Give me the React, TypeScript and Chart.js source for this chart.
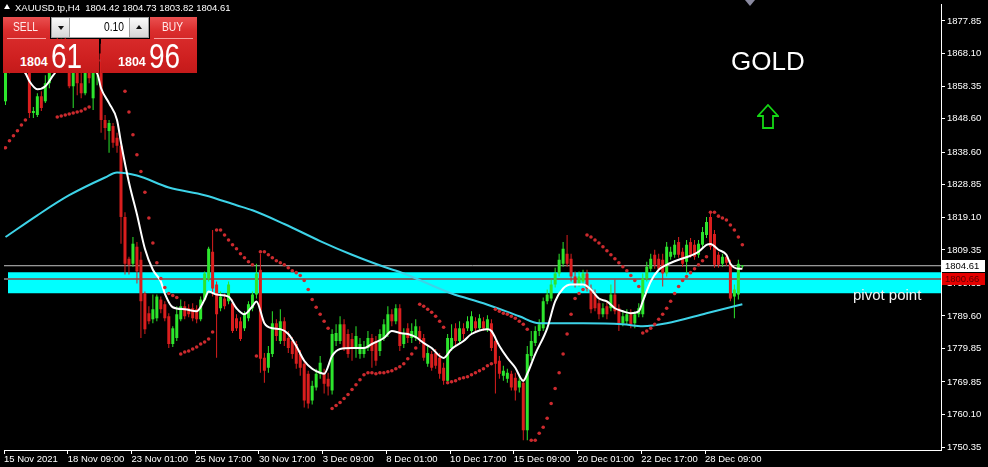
import React, { useEffect, useRef } from 'react';
import { Chart, registerables } from 'chart.js';

Chart.register(...registerables);

// ---------------- data ----------------
const symbolTitle = 'XAUUSD.tp,H4';
const lastBarOHLC = [1804.42, 1804.73, 1803.82, 1804.61];
const bidPrice = 1804.61;
const askPrice = 1804.96;
const lotSize = '0.10';
const pivotLinePrice = 1800.66;
const pivotZoneTop = 1802.65;
const pivotZoneBottom = 1796.42;
const pivotZoneStartBar = 0.625;

const opens = [
  1853.8, 1864.5, 1868.7, 1866.6, 1871.6, 1869.6, 1863.6, 1850.3, 1849.7, 1855.3,
  1853.8, 1859.2, 1865.7, 1869.6, 1868.1, 1871.0, 1866.6, 1858.3, 1865.1, 1859.2,
  1856.2, 1864.5, 1854.7, 1862.2, 1868.1, 1848.2, 1844.9, 1846.4, 1842.9, 1840.5,
  1819.2, 1806.7, 1805.2, 1810.3, 1806.4, 1796.3, 1790.4, 1788.6, 1788.9, 1794.5,
  1793.1, 1789.5, 1781.2, 1783.0, 1788.6, 1792.5, 1791.9, 1791.9, 1791.6, 1788.6,
  1794.5, 1800.8, 1808.8, 1799.0, 1791.9, 1794.8, 1794.0, 1793.4, 1788.9, 1788.0,
  1785.9, 1788.9, 1791.9, 1796.0, 1803.4, 1777.1, 1774.1, 1778.2, 1787.4, 1782.1,
  1788.0, 1783.0, 1782.1, 1781.2, 1778.2, 1775.3, 1772.3, 1764.3, 1768.2, 1772.3,
  1772.3, 1770.8, 1767.3, 1782.1, 1782.1, 1787.1, 1784.2, 1782.7, 1780.0, 1778.2,
  1778.2, 1780.0, 1783.0, 1782.1, 1779.1, 1783.0, 1784.2, 1790.1, 1788.0, 1791.9,
  1781.2, 1785.9, 1783.0, 1783.0, 1785.1, 1783.0, 1775.3, 1778.2, 1778.5, 1777.1,
  1774.1, 1770.2, 1780.0, 1785.9, 1782.1, 1785.9, 1785.9, 1785.1, 1788.0, 1785.9,
  1788.0, 1785.6, 1787.4, 1782.1, 1776.2, 1771.7, 1770.8, 1772.3, 1771.1, 1768.2,
  1769.6, 1755.4, 1777.6, 1781.5, 1785.1, 1785.9, 1794.0, 1794.8, 1799.0, 1802.3,
  1805.2, 1808.2, 1806.7, 1801.4, 1799.3, 1799.9, 1802.3, 1797.8, 1796.0, 1793.4,
  1790.1, 1792.5, 1791.9, 1796.0, 1791.9, 1787.4, 1788.0, 1790.1, 1787.4, 1790.1,
  1790.1, 1800.8, 1803.7, 1807.9, 1806.7, 1806.4, 1802.3, 1807.3, 1807.9, 1811.7,
  1808.8, 1805.8, 1811.7, 1810.9, 1807.9, 1810.9, 1813.8, 1819.2, 1814.1, 1807.9,
  1805.2, 1807.3, 1805.2, 1795.4, 1796.0, 1804.42,
];

const highs = [
  1866.6, 1871.0, 1872.5, 1874.0, 1875.5, 1871.0, 1866.6, 1852.1, 1856.2, 1856.8,
  1861.6, 1868.1, 1871.0, 1874.0, 1872.5, 1874.0, 1868.1, 1866.6, 1868.1, 1863.6,
  1866.6, 1868.1, 1866.6, 1869.6, 1871.0, 1849.7, 1848.2, 1847.3, 1844.4, 1842.0,
  1820.6, 1807.3, 1813.2, 1811.7, 1808.8, 1796.9, 1792.5, 1796.0, 1796.0, 1795.4,
  1794.0, 1790.4, 1786.5, 1792.5, 1794.5, 1794.0, 1793.1, 1793.4, 1792.8, 1795.4,
  1802.9, 1810.3, 1815.3, 1799.9, 1796.9, 1796.3, 1799.9, 1794.5, 1790.1, 1789.2,
  1791.0, 1794.0, 1796.9, 1805.2, 1808.2, 1778.5, 1780.6, 1791.0, 1788.6, 1791.6,
  1789.2, 1785.1, 1783.3, 1782.1, 1779.4, 1776.2, 1773.2, 1770.2, 1773.8, 1777.6,
  1773.8, 1772.6, 1785.6, 1787.1, 1789.5, 1788.6, 1785.6, 1784.5, 1786.5, 1783.0,
  1782.1, 1785.1, 1784.2, 1783.6, 1785.6, 1788.6, 1792.5, 1791.6, 1793.1, 1793.1,
  1785.9, 1787.4, 1787.4, 1788.6, 1786.5, 1784.2, 1780.6, 1779.1, 1779.7, 1778.5,
  1775.6, 1784.2, 1787.1, 1787.4, 1788.0, 1787.4, 1789.5, 1791.0, 1789.2, 1790.1,
  1789.2, 1789.8, 1788.6, 1783.3, 1777.6, 1774.7, 1773.8, 1773.2, 1772.6, 1771.7,
  1770.8, 1780.6, 1785.1, 1786.5, 1788.6, 1795.1, 1797.5, 1800.5, 1804.0, 1808.2,
  1811.7, 1813.8, 1808.2, 1802.9, 1802.9, 1803.4, 1803.4, 1799.0, 1797.5, 1794.5,
  1793.4, 1794.0, 1799.0, 1800.5, 1793.1, 1791.0, 1791.6, 1791.6, 1791.0, 1793.4,
  1802.3, 1805.8, 1808.2, 1809.4, 1808.2, 1808.2, 1811.7, 1810.3, 1812.3, 1813.2,
  1810.0, 1812.3, 1812.9, 1812.3, 1812.3, 1816.2, 1819.2, 1820.6, 1815.3, 1808.8,
  1808.2, 1808.2, 1806.4, 1799.0, 1806.4, 1804.73,
];

const lows = [
  1852.7, 1862.2, 1865.1, 1864.5, 1868.1, 1861.6, 1848.8, 1848.8, 1849.1, 1850.9,
  1853.3, 1857.7, 1863.6, 1866.6, 1865.1, 1864.5, 1857.7, 1851.8, 1855.6, 1854.7,
  1855.6, 1859.2, 1851.2, 1858.6, 1844.4, 1842.3, 1838.4, 1839.9, 1838.4, 1811.2,
  1802.0, 1802.0, 1804.3, 1799.3, 1783.0, 1784.2, 1787.1, 1787.4, 1788.0, 1790.4,
  1788.0, 1780.0, 1780.3, 1782.1, 1788.0, 1788.6, 1789.2, 1788.0, 1787.4, 1788.0,
  1794.0, 1799.9, 1795.4, 1777.1, 1791.0, 1791.6, 1793.1, 1784.5, 1785.1, 1782.1,
  1785.1, 1788.0, 1791.0, 1794.8, 1772.6, 1769.6, 1772.6, 1777.3, 1782.1, 1781.2,
  1780.6, 1778.5, 1776.8, 1773.8, 1771.7, 1762.2, 1761.9, 1763.1, 1767.3, 1770.8,
  1766.4, 1765.8, 1766.1, 1780.6, 1781.2, 1779.1, 1777.1, 1776.2, 1777.1, 1776.8,
  1777.1, 1779.1, 1774.1, 1774.7, 1777.6, 1782.1, 1783.3, 1786.5, 1787.1, 1779.1,
  1780.0, 1781.5, 1781.5, 1782.1, 1781.2, 1776.2, 1774.4, 1773.2, 1773.8, 1770.8,
  1769.0, 1769.6, 1779.1, 1780.6, 1781.2, 1782.7, 1785.1, 1784.2, 1784.5, 1785.1,
  1785.1, 1784.8, 1779.1, 1766.4, 1770.8, 1770.2, 1769.6, 1767.3, 1764.3, 1766.7,
  1752.4, 1752.4, 1776.2, 1780.6, 1783.6, 1785.1, 1793.1, 1794.0, 1798.1, 1801.4,
  1804.3, 1804.3, 1799.9, 1798.1, 1798.4, 1798.7, 1796.9, 1790.4, 1791.0, 1788.6,
  1789.2, 1788.6, 1791.0, 1790.1, 1785.1, 1786.5, 1787.1, 1785.9, 1785.9, 1789.2,
  1789.2, 1799.9, 1802.9, 1803.7, 1802.9, 1798.4, 1801.4, 1806.4, 1807.0, 1807.0,
  1804.3, 1802.3, 1807.0, 1806.4, 1807.0, 1810.0, 1812.9, 1809.4, 1804.0, 1804.0,
  1804.3, 1804.6, 1794.0, 1788.9, 1794.5, 1803.82,
];

const closes = [
  1864.5, 1868.7, 1866.6, 1871.6, 1869.6, 1863.6, 1850.3, 1850.9, 1855.3, 1851.8,
  1859.2, 1865.7, 1869.6, 1868.1, 1871.0, 1866.6, 1858.3, 1865.1, 1859.2, 1856.2,
  1864.5, 1860.7, 1863.6, 1868.1, 1848.2, 1845.8, 1847.3, 1841.4, 1840.5, 1819.2,
  1805.2, 1804.9, 1811.2, 1802.9, 1794.0, 1785.6, 1788.0, 1791.6, 1795.4, 1791.6,
  1788.9, 1781.2, 1785.9, 1790.1, 1792.5, 1789.5, 1790.1, 1788.9, 1788.6, 1794.5,
  1802.3, 1809.7, 1797.8, 1790.1, 1795.4, 1792.5, 1799.0, 1785.1, 1785.9, 1782.7,
  1790.1, 1793.1, 1796.0, 1802.3, 1776.8, 1773.2, 1778.5, 1787.4, 1783.6, 1788.0,
  1782.1, 1780.0, 1778.2, 1775.3, 1774.1, 1764.3, 1763.4, 1768.7, 1772.3, 1775.6,
  1769.3, 1768.5, 1784.2, 1784.5, 1787.1, 1780.0, 1778.2, 1779.7, 1783.6, 1781.2,
  1780.0, 1783.0, 1779.1, 1776.2, 1784.2, 1787.1, 1790.1, 1788.0, 1791.9, 1780.6,
  1784.5, 1783.0, 1785.1, 1786.5, 1782.7, 1777.1, 1778.5, 1774.1, 1774.7, 1772.3,
  1770.2, 1783.0, 1783.0, 1782.1, 1785.9, 1784.2, 1788.0, 1789.5, 1785.9, 1788.9,
  1785.9, 1788.6, 1780.0, 1775.3, 1772.3, 1773.2, 1772.6, 1768.2, 1767.3, 1770.2,
  1755.4, 1778.2, 1782.1, 1785.1, 1787.1, 1794.0, 1796.0, 1799.0, 1802.3, 1806.4,
  1809.7, 1805.2, 1801.4, 1799.3, 1801.4, 1802.3, 1797.8, 1791.6, 1791.9, 1790.1,
  1791.9, 1790.1, 1796.0, 1791.0, 1787.4, 1789.5, 1790.1, 1787.1, 1790.1, 1791.9,
  1800.8, 1804.3, 1806.7, 1804.9, 1803.7, 1802.3, 1810.3, 1808.8, 1810.9, 1807.9,
  1805.2, 1810.9, 1807.9, 1807.3, 1811.2, 1814.7, 1817.7, 1810.3, 1804.9, 1804.9,
  1807.3, 1805.5, 1794.8, 1797.5, 1805.2, 1804.61,
];

// Parabolic SAR, one dot per bar
const sarValues = [
  1839.9, 1842.0, 1843.5, 1845.0, 1846.7, 1848.2, 1866.0, 1866.0, 1866.0, 1866.0,
  1866.0, 1866.0, 1866.0, 1849.1, 1849.4, 1849.7, 1850.0, 1850.3, 1850.6, 1850.9,
  1851.5, 1852.1, 1866.0, 1866.0, 1866.0, 1866.0, 1866.0, 1866.0, 1866.0, 1863.6,
  1856.8, 1850.6, 1843.8, 1837.8, 1832.8, 1826.6, 1818.9, 1811.4, 1805.5, 1800.8,
  1798.1, 1796.3, 1795.7, 1795.1, 1778.2, 1778.8, 1779.1, 1779.7, 1780.3, 1781.2,
  1781.8, 1782.7, 1784.8, 1815.3, 1815.3, 1813.8, 1812.3, 1810.9, 1809.7, 1808.2,
  1807.0, 1805.8, 1804.9, 1777.6, 1808.8, 1808.8, 1807.9, 1807.0, 1806.1, 1805.5,
  1804.9, 1804.0, 1803.1, 1802.55, 1801.7, 1800.2, 1797.5, 1794.5, 1792.2, 1790.1,
  1788.0, 1785.9, 1761.9, 1762.8, 1763.7, 1764.9, 1766.1, 1767.6, 1769.0, 1770.5,
  1772.0, 1772.6, 1772.6, 1772.3, 1772.6, 1772.6, 1772.9, 1773.2, 1773.8, 1774.4,
  1775.3, 1776.8, 1778.2, 1780.0, 1793.1, 1792.5, 1791.6, 1790.7, 1789.5, 1788.0,
  1786.2, 1769.6, 1769.9, 1770.2, 1770.8, 1771.1, 1771.4, 1772.0, 1772.6, 1773.2,
  1773.8, 1774.7, 1775.3, 1791.6, 1791.0, 1790.4, 1790.1, 1789.5, 1788.9, 1788.0,
  1787.1, 1785.6, 1752.4, 1752.4, 1754.5, 1756.3, 1759.0, 1763.4, 1767.9, 1772.6,
  1778.2, 1784.2, 1790.1, 1794.8, 1796.3, 1797.5, 1813.8, 1813.2, 1812.3, 1811.4,
  1810.3, 1809.1, 1807.9, 1806.7, 1805.5, 1804.3, 1803.1, 1801.7, 1800.2, 1798.4,
  1784.5, 1785.1, 1785.9, 1787.1, 1788.6, 1790.1, 1791.9, 1794.0, 1796.3, 1798.4,
  1800.2, 1801.4, 1802.55, 1803.7, 1804.9, 1806.1, 1807.3, 1820.6, 1820.6, 1819.45,
  1818.9, 1818.3, 1816.8, 1815.3, 1813.2, 1810.9,
];

// fast moving average (white), sampled at these bars
const fastMaBars = [
  1, 3, 5, 6, 8, 10, 12, 14, 17, 20, 23, 24, 26, 28, 29, 31, 33, 35, 37, 39,
  40, 42, 45, 48, 50, 51, 53, 56, 58, 60, 62, 63, 65, 67, 69, 71, 73, 75, 77, 79,
  80, 82, 84, 87, 90, 92, 95, 97, 99, 101, 103, 105, 107, 109, 110, 112, 115, 117, 121, 122,
  124, 126, 128, 130, 131, 133, 136, 138, 140, 142, 145, 147, 149, 151, 153, 155, 157, 159, 160, 162,
  164, 166, 169, 172, 174, 176, 177, 179, 181, 182, 184, 185,
];
const fastMaValues = [
  1863.0, 1863.6, 1862.2, 1859.8, 1857.4, 1858.3, 1861.6, 1864.5, 1865.1, 1863.9,
  1862.2, 1857.7, 1853.25, 1848.2, 1841.4, 1829.5, 1820.0, 1809.7, 1803.4, 1799.9,
  1796.3, 1792.2, 1791.6, 1791.0, 1794.5, 1796.9, 1796.0, 1795.4, 1791.9, 1790.1,
  1792.5, 1793.95, 1787.4, 1785.9, 1785.65, 1784.2, 1780.6, 1776.2, 1773.8, 1772.6,
  1772.3, 1777.6, 1779.7, 1780.0, 1780.0, 1781.2, 1783.0, 1785.1, 1784.5, 1784.2,
  1783.3, 1781.5, 1780.0, 1777.6, 1777.05, 1779.7, 1782.1, 1784.2, 1785.65, 1785.1,
  1780.6, 1777.05, 1774.1, 1770.2, 1772.3, 1778.2, 1785.9, 1793.95, 1797.8, 1799.0,
  1799.0, 1797.5, 1794.8, 1793.95, 1791.9, 1791.0, 1790.4, 1791.0, 1793.95, 1799.9,
  1803.4, 1804.9, 1806.4, 1807.6, 1808.8, 1810.85, 1811.15, 1809.4, 1807.9, 1805.2,
  1803.7, 1803.7,
];

// slow moving average (cyan), sampled at these bars
const slowMaBars = [0, 8, 16, 25, 28, 33, 41, 50, 58, 62, 70, 79, 87, 95, 100, 112, 120, 129, 134, 145, 155, 160, 166, 176, 183, 185];
const slowMaValues = [
  1813.2, 1819.7, 1825.7, 1831.0, 1832.5, 1831.6, 1828.0, 1825.7, 1822.7, 1821.2,
  1817.1, 1812.0, 1807.9, 1804.3, 1802.3, 1796.3, 1793.4, 1789.5, 1787.4, 1787.4,
  1787.1, 1786.5, 1787.4, 1790.4, 1792.5, 1793.1,
];

const yTickValues = [1877.85, 1868.10, 1858.35, 1848.60, 1838.60, 1828.85, 1819.10, 1809.35, 1799.35, 1789.60, 1779.85, 1769.85, 1760.10, 1750.35];
const xTickBars = [0, 16, 32, 48, 64, 80, 96, 112, 128, 144, 160, 176];
const xTickLabels = ['15 Nov 2021', '18 Nov 09:00', '23 Nov 01:00', '25 Nov 17:00', '30 Nov 17:00', '3 Dec 09:00', '8 Dec 01:00', '10 Dec 17:00', '15 Dec 09:00', '20 Dec 01:00', '22 Dec 17:00', '28 Dec 09:00'];

// ---------------- view settings ----------------
const X_MIN = -0.375;
const X_MAX = 234.875;
const Y_MIN = 1749.5;
const Y_MAX = 1882.9;
const BULL = '#2de52d';
const BEAR = '#da1e1e';
const FONT = '"Liberation Sans", Arial, sans-serif';

const priceTags: any = {
  id: 'priceTags',
  afterDraw(chart: any) {
    const { ctx, chartArea } = chart;
    const ys = chart.scales.y;
    const tag = (v: number, bg: string, fg: string) => {
      const py = Math.round(ys.getPixelForValue(v));
      ctx.save();
      ctx.fillStyle = bg;
      ctx.fillRect(chartArea.right + 1, py - 6, 43, 12);
      ctx.fillStyle = fg;
      ctx.font = '9.5px ' + FONT;
      ctx.textBaseline = 'middle';
      ctx.textAlign = 'left';
      ctx.fillText(v.toFixed(2), chartArea.right + 4, py + 0.5);
      ctx.restore();
    };
    tag(bidPrice, '#ffffff', '#000000');
    tag(pivotLinePrice, '#e50000', '#5c0000');
  },
};

function makeChart(canvas: HTMLCanvasElement) {
  const bars = opens.map((_, i) => i);
  const colors = bars.map((i) => (closes[i] >= opens[i] ? BULL : BEAR));
  const hLine = (v: number, x0 = X_MIN) => [
    { x: x0, y: v },
    { x: X_MAX, y: v },
  ];
  const config: any = {
    type: 'bar',
    data: {
      datasets: [
        {
          type: 'line',
          data: hLine(pivotZoneTop, pivotZoneStartBar),
          fill: { value: pivotZoneBottom },
          backgroundColor: '#00ffff',
          borderWidth: 0,
          pointRadius: 0,
          order: 10,
        },
        {
          type: 'line',
          data: hLine(bidPrice),
          borderColor: '#c4c4c4',
          borderWidth: 1,
          pointRadius: 0,
          fill: false,
          order: 9,
        },
        {
          type: 'line',
          data: hLine(pivotLinePrice),
          borderColor: '#6c6c6c',
          borderWidth: 2,
          pointRadius: 0,
          fill: false,
          order: 9,
        },
        {
          type: 'bar',
          data: bars.map((i) => ({ x: i, y: [lows[i], highs[i]] })),
          backgroundColor: colors,
          barThickness: 1,
          grouped: false,
          borderWidth: 0,
          inflateAmount: 0,
          order: 6,
        },
        {
          type: 'bar',
          data: bars.map((i) => ({ x: i, y: [opens[i], closes[i]] })),
          backgroundColor: colors,
          barThickness: 3,
          grouped: false,
          borderWidth: 0,
          minBarLength: 1,
          inflateAmount: 0,
          order: 5,
        },
        {
          type: 'line',
          data: slowMaBars.map((b, k) => ({ x: b, y: slowMaValues[k] })),
          borderColor: '#3dd3e8',
          borderWidth: 2,
          pointRadius: 0,
          cubicInterpolationMode: 'monotone',
          fill: false,
          order: 4,
        },
        {
          type: 'line',
          data: fastMaBars.map((b, k) => ({ x: b, y: fastMaValues[k] })),
          borderColor: '#ffffff',
          borderWidth: 2,
          pointRadius: 0,
          cubicInterpolationMode: 'monotone',
          fill: false,
          order: 3,
        },
        {
          type: 'line',
          data: sarValues.map((v, i) => ({ x: i, y: v })),
          showLine: false,
          pointRadius: 1.8,
          pointBorderWidth: 0,
          pointBackgroundColor: '#cc2a2e',
          pointStyle: 'circle',
          order: 2,
        },
      ],
    },
    options: {
      responsive: false,
      maintainAspectRatio: false,
      devicePixelRatio: 1,
      animation: false,
      events: [],
      layout: { padding: 0 },
      plugins: { legend: { display: false }, tooltip: { enabled: false } },
      scales: {
        x: {
          type: 'linear',
          position: 'bottom',
          min: X_MIN,
          max: X_MAX,
          offset: false,
          grid: { display: true, drawOnChartArea: false, drawTicks: true, tickLength: 4, color: '#ffffff', offset: false },
          border: { display: true, color: '#ffffff', width: 1 },
          afterBuildTicks: (s: any) => {
            s.ticks = xTickBars.map((b) => ({ value: b + X_MIN }));
          },
          afterFit: (s: any) => {
            s.height = 17;
            s.paddingLeft = 0;
            s.paddingRight = 0;
          },
          ticks: {
            autoSkip: false,
            maxRotation: 0,
            minRotation: 0,
            align: 'start',
            padding: 0,
            color: '#ffffff',
            font: { family: FONT, size: 9.5 },
            callback: (_v: any, i: number) => xTickLabels[i],
          },
        },
        y: {
          type: 'linear',
          position: 'right',
          min: Y_MIN,
          max: Y_MAX,
          grid: { display: true, drawOnChartArea: false, drawTicks: true, tickLength: 4, color: '#ffffff' },
          border: { display: true, color: '#ffffff', width: 1 },
          afterBuildTicks: (s: any) => {
            s.ticks = yTickValues.map((v) => ({ value: v }));
          },
          afterFit: (s: any) => {
            s.width = 47;
            s.paddingTop = 0;
            s.paddingBottom = 0;
          },
          ticks: {
            padding: 2,
            color: '#ffffff',
            font: { family: FONT, size: 9.5 },
            callback: (v: any) => Number(v).toFixed(2),
          },
        },
      },
    },
    plugins: [priceTags],
  };
  return new Chart(canvas, config);
}

// ---------------- overlay pieces ----------------
const tileBgTop = 'linear-gradient(180deg, #ea5050 0%, #db2e2e 60%, #d42727 100%)';
const tileBgBottom = 'linear-gradient(180deg, #d82a2a 0%, #cf2020 55%, #c41a1a 100%)';
const btnBg = 'linear-gradient(180deg, #fbfbfb 0%, #d6d6d6 100%)';

function abs(left: number, top: number, extra: any = {}): any {
  return { position: 'absolute', left, top, ...extra };
}

function PriceTile({ left, price }: { left: number; price: number }) {
  const [whole, frac] = price.toFixed(2).split('.');
  return (
    <>
      <div style={abs(left, 39, { width: 96, height: 34, background: tileBgBottom })} />
      <div
        style={abs(left + 17, 56.4, {
          font: 'bold 12.5px ' + FONT,
          lineHeight: '12.5px',
          color: '#ffffff',
          whiteSpace: 'pre',
        })}
      >
        {whole}
      </div>
      <div
        style={abs(left + 48, 38.4, {
          font: '35px ' + FONT,
          lineHeight: '35px',
          color: '#ffffff',
          whiteSpace: 'pre',
          transform: 'scaleX(0.8)',
          transformOrigin: 'left top',
        })}
      >
        {frac}
      </div>
    </>
  );
}

function LabelTile({ left, text, textLeft }: { left: number; text: string; textLeft: number }) {
  return (
    <>
      <div style={abs(left, 17, { width: 47, height: 22, background: tileBgTop })} />
      <div style={abs(left + 4, 38, { width: 39, height: 1, background: 'rgba(255,190,190,0.8)' })} />
      <div
        style={abs(textLeft, 21.4, {
          font: '12.5px ' + FONT,
          lineHeight: '12.5px',
          color: '#ffecec',
          whiteSpace: 'pre',
          transform: 'scaleX(0.82)',
          transformOrigin: 'left top',
        })}
      >
        {text}
      </div>
    </>
  );
}

export default function App() {
  const ref = useRef<HTMLCanvasElement>(null);
  useEffect(() => {
    document.body.style.margin = '0';
    document.body.style.background = '#000';
    const chart = makeChart(ref.current as HTMLCanvasElement);
    return () => chart.destroy();
  }, []);

  const header = `${symbolTitle}  ${lastBarOHLC.map((v) => v.toFixed(2)).join(' ')}`;

  return (
    <div style={{ position: 'relative', width: 988, height: 467, background: '#000', overflow: 'hidden' }}>
      <canvas ref={ref} width={988} height={467} style={{ position: 'absolute', left: 0, top: 0, width: 988, height: 467 }} />

      {/* header */}
      <div style={abs(4, 4, { width: 0, height: 0, borderLeft: '3px solid transparent', borderRight: '3px solid transparent', borderBottom: '5px solid #ffffff' })} />
      <div style={abs(15, 2.5, { font: '9.5px ' + FONT, lineHeight: '10px', color: '#ffffff', whiteSpace: 'pre' })}>{header}</div>

      {/* chart shift marker */}
      <div style={abs(745, 0, { width: 0, height: 0, borderLeft: '5px solid transparent', borderRight: '5px solid transparent', borderTop: '6px solid #8a8aa0' })} />

      {/* one-click trading panel */}
      <PriceTile left={3} price={bidPrice} />
      <PriceTile left={101} price={askPrice} />
      <LabelTile left={3} text="SELL" textLeft={13} />
      <LabelTile left={150} text="BUY" textLeft={162} />
      <div style={abs(51, 17, { width: 98, height: 21, background: '#ffffff', boxSizing: 'border-box', border: '1px solid #a8a8a8' })} />
      <div style={abs(51, 17, { width: 19, height: 21, background: btnBg, boxSizing: 'border-box', border: '1px solid #a0a0a0' })} />
      <div style={abs(129, 17, { width: 20, height: 21, background: btnBg, boxSizing: 'border-box', border: '1px solid #a0a0a0' })} />
      <div style={abs(58, 26, { width: 0, height: 0, borderLeft: '3px solid transparent', borderRight: '3px solid transparent', borderTop: '4px solid #111' })} />
      <div style={abs(136, 25, { width: 0, height: 0, borderLeft: '3px solid transparent', borderRight: '3px solid transparent', borderBottom: '4px solid #111' })} />
      <div
        style={abs(70, 21.4, {
          width: 54,
          textAlign: 'right',
          font: '12.5px ' + FONT,
          lineHeight: '12.5px',
          color: '#000',
          transform: 'scaleX(0.82)',
          transformOrigin: 'right top',
        })}
      >
        {lotSize}
      </div>

      {/* annotations */}
      <div style={abs(731, 47.6, { font: '26px ' + FONT, lineHeight: '26px', color: '#ffffff', whiteSpace: 'pre' })}>GOLD</div>
      <svg style={abs(757, 104)} width={22} height={26} viewBox="0 0 22 26">
        <path d="M11 1 L21 12 L16 12 L16 24 L6 24 L6 12 L1 12 Z" fill="none" stroke="#14d614" strokeWidth={1.8} strokeLinejoin="miter" />
      </svg>
      <div style={abs(853, 287.3, { font: '15px ' + FONT, lineHeight: '15px', color: '#f2f2f2', whiteSpace: 'pre' })}>pivot point</div>
    </div>
  );
}
